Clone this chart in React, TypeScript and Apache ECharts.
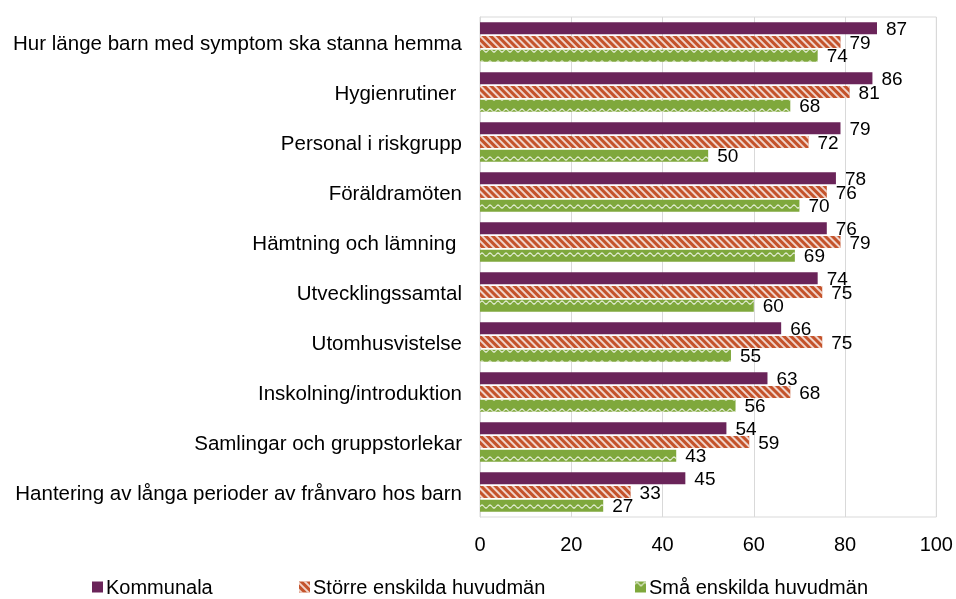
import React, { useEffect, useRef } from "react";
import * as echarts from "echarts";

const categories = [
  "Hur länge barn med symptom ska stanna hemma",
  "Hygienrutiner ",
  "Personal i riskgrupp",
  "Föräldramöten",
  "Hämtning och lämning ",
  "Utvecklingssamtal",
  "Utomhusvistelse",
  "Inskolning/introduktion",
  "Samlingar och gruppstorlekar",
  "Hantering av långa perioder av frånvaro hos barn",
];
const kommunala = [87, 86, 79, 78, 76, 74, 66, 63, 54, 45];
const storre = [79, 81, 72, 76, 79, 75, 75, 68, 59, 33];
const sma = [74, 68, 50, 70, 69, 60, 55, 56, 43, 27];
const seriesNames = ["Kommunala", "Större enskilda huvudmän", "Små enskilda huvudmän"];
const xTicks = [0, 20, 40, 60, 80, 100];

const PURPLE = "#6A2459";
const ORANGE = "#C4532B";
const GREEN = "#7FA83C";
const FONT = "Liberation Sans, Arial, sans-serif";

export default function App() {
  const ref = useRef<HTMLDivElement>(null);
  useEffect(() => {
    if (!ref.current) return;
    const chart = echarts.init(ref.current, null, { renderer: "svg" });
    const label = {
      show: true,
      position: "right" as const,
      distance: 9,
      color: "#000",
      fontSize: 19,
      fontFamily: FONT,
    };
    const mk = (name: string, data: number[], color: string, decal?: any) => ({
      name,
      type: "bar",
      data,
      barWidth: 12,
      barGap: "14%",
      itemStyle: { color, decal },
      label,
    });
    chart.setOption({
      animation: false,
      aria: { enabled: false, decal: { show: true } },
      textStyle: { fontFamily: FONT },
      grid: { left: 480, right: 19, top: 17, bottom: 82, show: true, borderColor: "#d9d9d9", borderWidth: 1 },
      xAxis: {
        type: "value",
        min: 0,
        max: 100,
        interval: 20,
        axisLine: { show: false },
        axisTick: { show: false },
        splitLine: { show: true, lineStyle: { color: "#d9d9d9", width: 1 } },
        axisLabel: { color: "#000", fontSize: 20, fontFamily: FONT, margin: 17, formatter: (v: number) => (xTicks.includes(v) ? String(v) : "") },
      },
      yAxis: {
        type: "category",
        data: categories,
        inverse: true,
        axisLine: { show: true, lineStyle: { color: "#d9d9d9" } },
        axisTick: { show: false },
        axisLabel: { color: "#000", fontSize: 20.5, fontFamily: FONT, margin: 18 },
      },
      legend: [0, 1, 2].map((i) => ({
        data: [seriesNames[i]],
        left: [92, 299, 635][i],
        top: 577,
        padding: 0,
        icon: "rect",
        itemWidth: 11,
        itemHeight: 11,
        textStyle: { color: "#000", fontSize: 20, fontFamily: FONT, padding: [0, 0, 0, -2] },
      })),
      series: [
        mk(seriesNames[0], kommunala, PURPLE),
        mk(seriesNames[1], storre, ORANGE, {
          symbol: "rect",
          symbolSize: 1,
          color: "rgba(255,255,255,0.75)",
          dashArrayX: [1, 0],
          dashArrayY: [2, 3],
          rotation: Math.PI / 4,
        }),
        mk(seriesNames[2], sma, GREEN, {
          symbol: "path://M0,3 Q2,0 4,3 T8,3 L8,4.5 Q6,7.5 4,4.5 T0,4.5 Z",
          symbolSize: 1,
          color: "rgba(255,255,255,0.8)",
          dashArrayX: [8, 0],
          dashArrayY: [5, 7],
          rotation: 0,
        }),
      ],
    });
    return () => chart.dispose();
  }, []);
  return <div ref={ref} style={{ position: "fixed", left: 0, top: 0, width: 956, height: 599 }} />;
}
